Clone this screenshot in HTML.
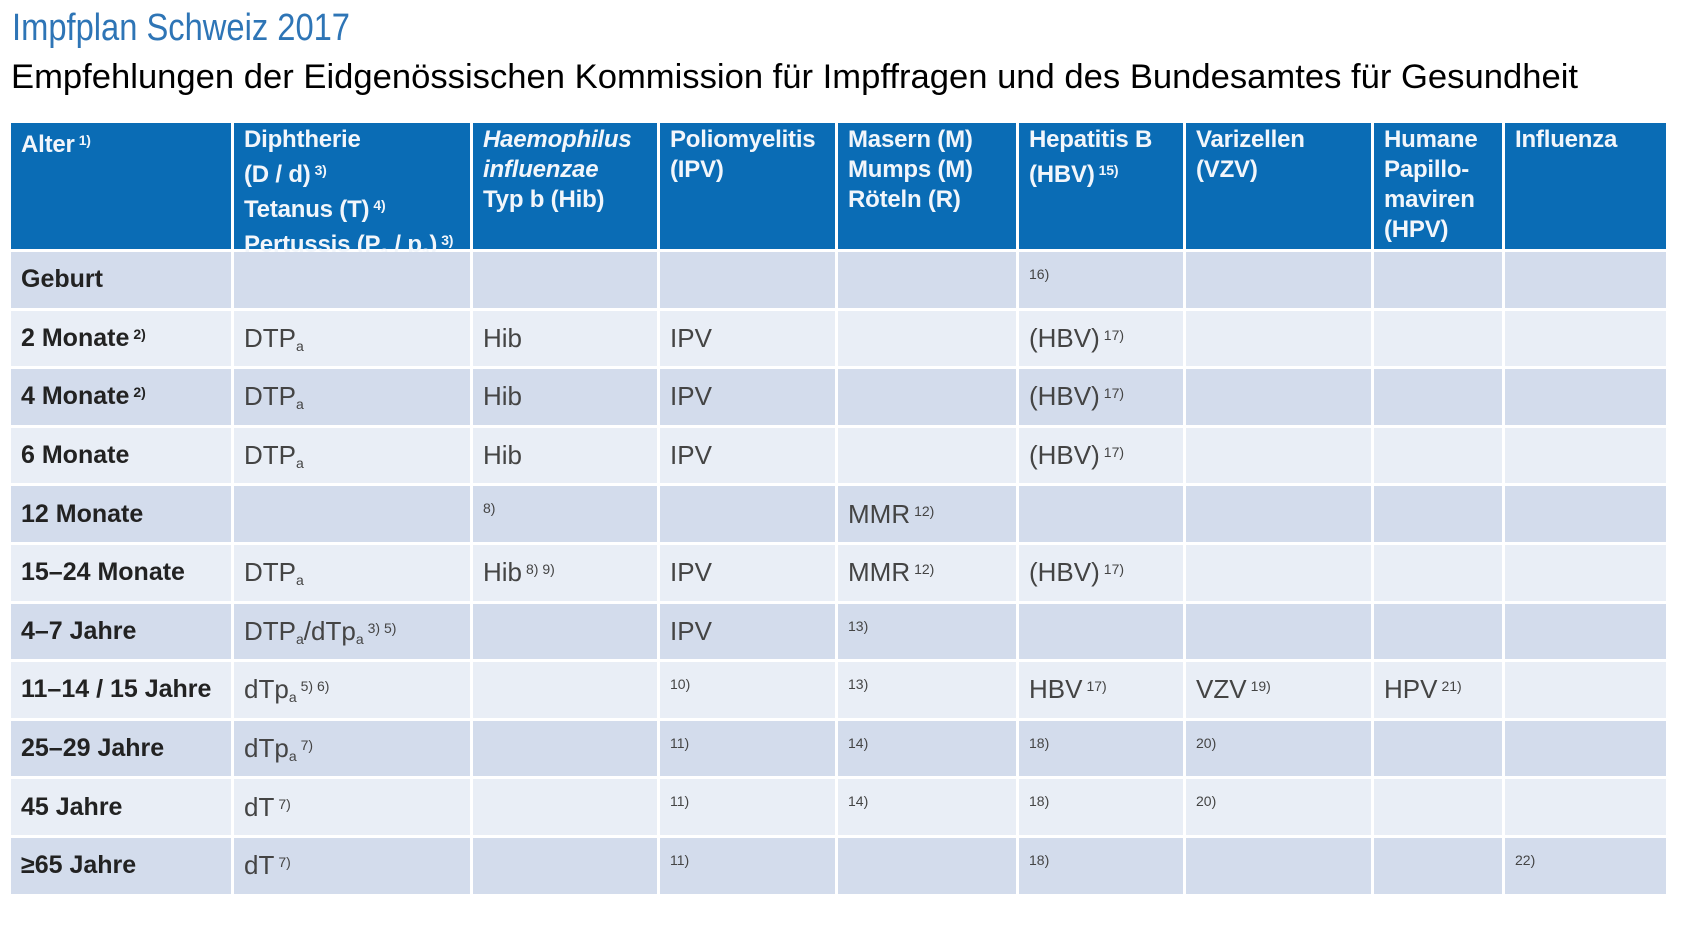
<!DOCTYPE html>
<html><head><meta charset="utf-8"><style>
body{margin:0;width:1684px;height:928px;background:#fff;position:relative;overflow:hidden;font-family:"Liberation Sans",Arial,sans-serif}
.c{position:absolute;box-sizing:border-box;padding-left:10px;white-space:nowrap}
.h{background:#0a6cb5;color:#f2f6fb;font-weight:bold;font-size:24px;line-height:30px;padding-top:2px;letter-spacing:-0.2px}
.d{background:#d3dcec}.l{background:#e9eef6}
.t{color:#444;font-size:26px;display:flex;align-items:center}
.a{color:#222;font-weight:bold;font-size:25px}
.n{font-size:14px;vertical-align:7px;margin-left:4px}
.f{font-size:14px;color:#444;align-items:flex-start;padding-top:14px}
sub{font-size:14px;vertical-align:-4px}
</style></head><body>
<svg width="1684" height="110" style="position:absolute;left:0;top:0">
<text x="12" y="40" font-size="38" fill="#2e75b6" textLength="338" lengthAdjust="spacingAndGlyphs" font-family="Liberation Sans">Impfplan Schweiz 2017</text>
<text x="11" y="88" font-size="34" fill="#000" textLength="1567" lengthAdjust="spacingAndGlyphs" font-family="Liberation Sans">Empfehlungen der Eidgenössischen Kommission für Impffragen und des Bundesamtes für Gesundheit</text>
</svg>
<div id="tbl"></div>
<script>
const cols=[11,234,473,660,838,1019,1186,1374,1505,1669];
const headers=['Alter<span class="n">1)</span>','Diphtherie<br>(D / d)<span class="n">3)</span><br>Tetanus (T)<span class="n">4)</span><br>Pertussis (P<sub>a</sub> / p<sub>a</sub>)<span class="n">3)</span>','<i>Haemophilus<br>influenzae</i><br>Typ b (Hib)','Poliomyelitis<br>(IPV)','Masern (M)<br>Mumps (M)<br>Röteln (R)','Hepatitis B<br>(HBV)<span class="n">15)</span>','Varizellen<br>(VZV)','Humane<br>Papillo-<br>maviren<br>(HPV)','Influenza'];
const ages=['Geburt','2 Monate<span class="n">2)</span>','4 Monate<span class="n">2)</span>','6 Monate','12 Monate','15–24 Monate','4–7 Jahre','11–14 / 15 Jahre','25–29 Jahre','45 Jahre','≥65 Jahre'];
const DTP='DTP<sub>a</sub>';
const cells=[
['', '', '', '', 'F16)', '', '', ''],
[DTP,'Hib','IPV','','(HBV)<span class="n">17)</span>','','',''],
[DTP,'Hib','IPV','','(HBV)<span class="n">17)</span>','','',''],
[DTP,'Hib','IPV','','(HBV)<span class="n">17)</span>','','',''],
['','F8)','','MMR<span class="n">12)</span>','','','',''],
[DTP,'Hib<span class="n">8) 9)</span>','IPV','MMR<span class="n">12)</span>','(HBV)<span class="n">17)</span>','','',''],
['DTP<sub>a</sub>/dTp<sub>a</sub><span class="n">3) 5)</span>','','IPV','F13)','','','',''],
['dTp<sub>a</sub><span class="n">5) 6)</span>','','F10)','F13)','HBV<span class="n">17)</span>','VZV<span class="n">19)</span>','HPV<span class="n">21)</span>',''],
['dTp<sub>a</sub><span class="n">7)</span>','','F11)','F14)','F18)','F20)','',''],
['dT<span class="n">7)</span>','','F11)','F14)','F18)','F20)','',''],
['dT<span class="n">7)</span>','','F11)','','F18)','','','F22)']];
const top0=123, hH=129, rH=58.6, gap=3;
const T=document.getElementById('tbl');
for(let c=0;c<9;c++){
 const e=document.createElement('div');
 
 
 e.className='c h';
 e.style.cssText=`left:${cols[c]}px;top:${top0}px;width:${cols[c+1]-cols[c]-gap}px;height:${hH-gap}px`;
 e.innerHTML=headers[c];T.appendChild(e);
}
for(let r=0;r<ages.length;r++){
 const y=top0+hH+r*rH;
 for(let c=0;c<9;c++){
  const e=document.createElement('div');
  let txt=c==0?ages[r]:cells[r][c-1];
  let cls='c t '+(r%2==0?'d':'l');
  if(c==0)cls+=' a';
  if(txt.startsWith('F')){cls+=' f';txt=txt.slice(1);}
  
  
  e.className=cls;
  e.style.cssText=`left:${cols[c]}px;top:${y}px;width:${cols[c+1]-cols[c]-gap}px;height:${rH-gap}px`;
  e.innerHTML='<span>'+txt+'</span>';T.appendChild(e);
 }
}
</script>
</body></html>
